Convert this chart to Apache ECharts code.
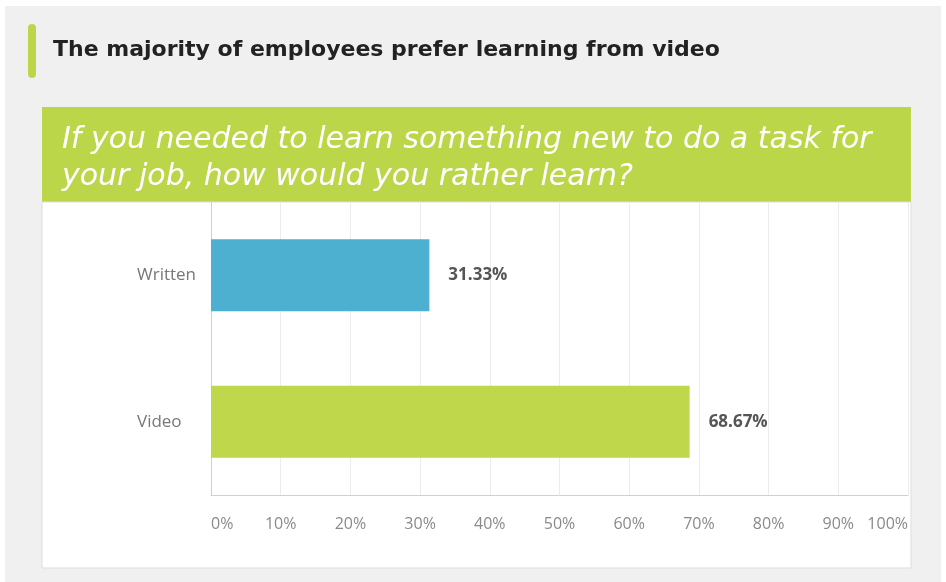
<!DOCTYPE html>
<html>
<head>
<meta charset="utf-8">
<script src="https://cdn.jsdelivr.net/npm/echarts@6/dist/echarts.min.js"></script>
<style>
  html, body { margin: 0; padding: 0; background: #ffffff; }
  #chart { width: 946px; height: 582px; }
</style>
</head>
<body>
<div id="chart"></div>
<script>
// data
const categories = ['Written', 'Video']
const shares = [31.33, 68.67]
const barColors = ['#4db0d0', '#bed74b']
const tickLabels = ['0%', '10%', '20%', '30%', '40%', '50%', '60%', '70%', '80%', '90%', '100%']

const chart = echarts.init(document.getElementById('chart'))

chart.setOption({
  animation: false,
  backgroundColor: '#ffffff',
  graphic: [
    // page background
    { type: 'rect', z: -10, shape: { x: 5, y: 6, width: 936, height: 576 }, style: { fill: '#f0f0f0' } },
    // accent bar next to the title
    { type: 'rect', z: -9, shape: { x: 28, y: 24, width: 8, height: 54, r: 4 }, style: { fill: '#bcd64a' } },
    {
      type: 'text', z: -9, x: 53, y: 50,
      style: {
        text: 'The majority of employees prefer learning from video',
        fill: '#222222', font: 'bold 22px "DejaVu Sans"', verticalAlign: 'middle'
      }
    },
    // green question header
    { type: 'rect', z: -9, shape: { x: 42, y: 107, width: 869, height: 95 }, style: { fill: '#bcd64a' } },
    {
      type: 'text', z: -8, x: 62, y: 140,
      style: {
        text: 'If you needed to learn something new to do a task for',
        fill: '#ffffff', font: 'oblique 30px "DejaVu Sans"', verticalAlign: 'middle'
      }
    },
    {
      type: 'text', z: -8, x: 62, y: 177,
      style: {
        text: 'your job, how would you rather learn?',
        fill: '#ffffff', font: 'oblique 30px "DejaVu Sans"', verticalAlign: 'middle'
      }
    },
    // white chart panel
    { type: 'rect', z: -9, shape: { x: 42, y: 202, width: 869, height: 366 }, style: { fill: '#ffffff', stroke: '#dddddd', lineWidth: 1 } }
  ],
  grid: { left: 211, right: 38, top: 202, bottom: 87 },
  xAxis: {
    type: 'value',
    min: 0,
    max: 100,
    interval: 10,
    axisLine: { show: true, lineStyle: { color: '#d0d0d0' } },
    axisTick: { show: false },
    splitLine: { show: true, lineStyle: { color: '#ececec' } },
    axisLabel: {
      margin: 21,
      color: '#8a8a8a',
      fontSize: 16,
      fontFamily: 'Open Sans',
      alignMinLabel: 'left',
      alignMaxLabel: 'right',
      formatter: (v) => tickLabels[Math.round(v / 10)]
    }
  },
  yAxis: {
    type: 'category',
    data: categories,
    inverse: true,
    axisLine: { show: true, lineStyle: { color: '#d0d0d0' } },
    axisTick: { show: false },
    axisLabel: {
      align: 'left',
      margin: 74,
      color: '#777777',
      fontSize: 17,
      fontFamily: 'Open Sans'
    }
  },
  series: [{
    type: 'bar',
    data: shares.map((v, i) => ({ value: v, itemStyle: { color: barColors[i] } })),
    barWidth: 72,
    label: {
      show: true,
      position: 'right',
      distance: 19,
      color: '#555555',
      fontSize: 17,
      fontWeight: 'bold',
      fontFamily: 'Open Sans',
      formatter: (p) => p.value.toFixed(2) + '%'
    }
  }]
})
</script>
</body>
</html>
